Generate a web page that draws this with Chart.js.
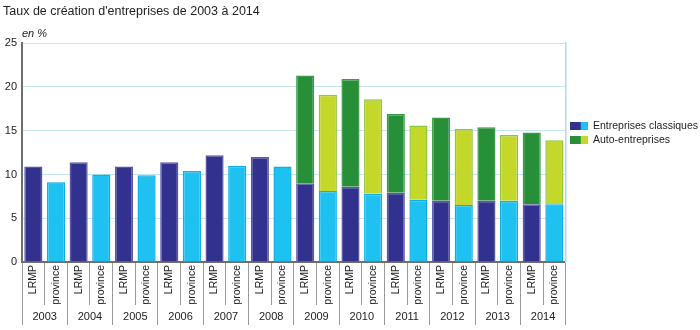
<!DOCTYPE html>
<html>
<head>
<meta charset="utf-8">
<script src="https://cdn.jsdelivr.net/npm/chart.js@4.4.1/dist/chart.umd.min.js"></script>
<style>
  body { margin: 0; background: #fff; }
  #wrap { width: 700px; height: 330px; }
</style>
</head>
<body>
<div id="wrap"><canvas id="creaStats"></canvas></div>
<script>
const years = ['2003', '2004', '2005', '2006', '2007', '2008', '2009', '2010', '2011', '2012', '2013', '2014'];
const zones = ['LRMP', 'province'];
const lrmpClassic = [10.9, 11.4, 10.9, 11.4, 12.2, 12.0, 9.0, 8.6, 7.9, 7.0, 7.0, 6.6];
const provClassic = [9.1, 10.0, 9.9, 10.4, 11.0, 10.9, 8.1, 7.8, 7.1, 6.5, 7.0, 6.6];
const lrmpAuto = [null, null, null, null, null, null, 12.3, 12.3, 9.0, 9.5, 8.4, 8.2];
const provAuto = [null, null, null, null, null, null, 11.0, 10.8, 8.5, 8.7, 7.5, 7.3];
const yTicks = [0, 5, 10, 15, 20, 25];

const FONT = "'Liberation Sans', Arial, sans-serif";

// LRMP / province side by side for each year
const labels = [];
const classic = [];
const auto = [];
years.forEach((y, i) => {
  labels.push(zones[0], zones[1]);
  classic.push(lrmpClassic[i], provClassic[i]);
  auto.push(lrmpAuto[i], provAuto[i]);
});
const alt = (a, b) => labels.map((l, i) => i % 2 ? b : a);

// two-colour legend swatch
function swatch(c1, c2) {
  const cv = document.createElement('canvas');
  cv.width = 18; cv.height = 8;
  const g = cv.getContext('2d');
  g.fillStyle = c1; g.fillRect(0, 0, 11, 8);
  g.fillStyle = c2; g.fillRect(11, 0, 7, 8);
  return cv;
}

const ctx = document.getElementById('creaStats');
new Chart(ctx, {
  type: 'bar',
  data: {
    labels: labels,
    datasets: [{
      label: 'Entreprises classiques',
      data: classic,
      backgroundColor: alt('#33318e', '#1ec1ef'),
      borderColor: alt('#5956a8', '#0eaee6'),
      borderWidth: 1.5,
      barPercentage: 0.8,
      categoryPercentage: 1,
      pointStyle: swatch('#33318e', '#1ec1ef')
    }, {
      label: 'Auto-entreprises',
      data: auto,
      backgroundColor: alt('#268f38', '#c4d72b'),
      borderColor: alt('#3c9b48', '#93c43a'),
      borderWidth: 1.5,
      barPercentage: 0.8,
      categoryPercentage: 1,
      pointStyle: swatch('#268f38', '#c4d72b')
    }]
  },
  options: {
    responsive: true,
    maintainAspectRatio: false,
    animation: false,
    layout: { padding: { left: 3, right: -8, top: 2, bottom: 5 } },
    scales: {
      x: {
        stacked: true,
        weight: 0,
        grid: { offset: true, drawOnChartArea: false, tickLength: 43, color: '#9a9a9a' },
        border: { color: '#6e6e6e', width: 2 },
        ticks: { autoSkip: false, minRotation: 90, maxRotation: 90, padding: -40, color: '#222', font: { family: FONT, size: 10.5 } },
        afterFit: (s) => { s.height = 43; }
      },
      years: {
        type: 'category',
        labels: years,
        position: 'bottom',
        weight: 1,
        offset: true,
        grid: { offset: true, drawOnChartArea: false, tickLength: 20, color: '#9a9a9a' },
        border: { display: false },
        ticks: { autoSkip: false, maxRotation: 0, padding: -15, color: '#222', font: { family: FONT, size: 11 } },
        afterFit: (s) => { s.height = 20; }
      },
      y: {
        stacked: true,
        min: 0,
        max: 25,
        afterBuildTicks: (s) => { s.ticks = yTicks.map(v => ({ value: v })); },
        grid: { color: '#c3e6f1', drawTicks: false },
        border: { color: '#6e6e6e', width: 2 },
        ticks: { padding: 5, color: '#222', font: { family: FONT, size: 11 } },
        afterFit: (s) => { s.width = 19; }
      },
      yr: {
        position: 'right',
        min: 0,
        max: 25,
        grid: { drawOnChartArea: false, drawTicks: false },
        border: { color: '#a9dced', width: 1.5 },
        ticks: { display: false }
      }
    },
    plugins: {
      title: {
        display: true,
        text: "Taux de création d'entreprises de 2003 à 2014",
        align: 'start',
        color: '#222',
        font: { family: FONT, size: 12.5, weight: 'normal' },
        padding: { top: 2, bottom: 8 }
      },
      subtitle: {
        display: true,
        text: 'en %',
        align: 'start',
        fullSize: false,
        color: '#222',
        font: { family: FONT, size: 11, style: 'italic' },
        padding: { top: 0, bottom: 3 }
      },
      legend: {
        position: 'right',
        align: 'start',
        fullSize: false,
        maxWidth: 150,
        title: { display: true, text: ' ', font: { size: 12 }, padding: { top: 0, bottom: 59 } },
        labels: {
          usePointStyle: true,
          pointStyleWidth: 18,
          boxHeight: 8,
          padding: 4,
          color: '#222',
          font: { family: FONT, size: 10.5 }
        }
      },
      tooltip: { enabled: false }
    }
  }
});
</script>
</body>
</html>
